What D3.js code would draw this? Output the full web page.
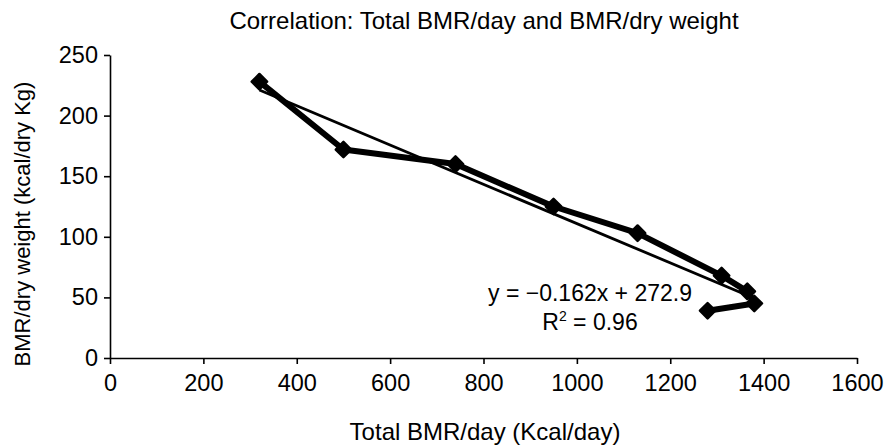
<!DOCTYPE html>
<html><head><meta charset="utf-8">
<script src="https://cdn.jsdelivr.net/npm/d3@7"></script>
<style>body{margin:0;background:#fff}svg{display:block}text{font-family:"Liberation Sans",Arial,sans-serif;fill:#000}</style>
</head><body><svg id="c" width="896" height="447"></svg>
<script>
const totalBMR = [320, 500, 740, 950, 1130, 1310, 1365, 1380, 1280];
const bmrPerDryWeight = [228, 172, 160, 125, 103, 68, 55, 45, 39];
const xTicks = [0, 200, 400, 600, 800, 1000, 1200, 1400, 1600];
const yTicks = [0, 50, 100, 150, 200, 250];
const slope = -0.162, intercept = 272.9;
const title = "Correlation: Total BMR/day and BMR/dry weight";
const xLabel = "Total BMR/day (Kcal/day)";
const yLabel = "BMR/dry weight (kcal/dry Kg)";

const svg = d3.select("#c");
const x = d3.scaleLinear().domain([0,1600]).range([110,857]);
const y = d3.scaleLinear().domain([0,250]).range([358,55]);

const xa = svg.append("g").attr("transform","translate(0,358)")
  .call(d3.axisBottom(x).tickValues(xTicks).tickFormat(d3.format("d")).tickSize(6).tickPadding(10).tickSizeOuter(0));
const ya = svg.append("g").attr("transform","translate(110,0)")
  .call(d3.axisLeft(y).tickValues(yTicks).tickFormat(d3.format("d")).tickSize(6).tickPadding(6).tickSizeOuter(0));
[xa,ya].forEach(a=>{
  a.attr("font-size",null).attr("font-family",null);
  a.selectAll("path,line").attr("stroke","#000").attr("stroke-width",1.6);
  a.selectAll("text").style("font-size","23.5px");
});

svg.append("text").attr("x",484).attr("y",29).attr("text-anchor","middle").style("font-size","24px").text(title);
svg.append("text").attr("x",485).attr("y",440).attr("text-anchor","middle").style("font-size","24px").text(xLabel);
svg.append("text").attr("transform","translate(30,224) rotate(-90)").attr("text-anchor","middle").style("font-size","22px").text(yLabel);

const data = totalBMR.map((v,i)=>[v,bmrPerDryWeight[i]]);
const line = d3.line().x(d=>x(d[0])).y(d=>y(d[1]));
svg.append("path").datum(data).attr("d",line).attr("fill","none").attr("stroke","#000").attr("stroke-width",6).attr("stroke-linejoin","round");

const xmin = d3.min(totalBMR), xmax = d3.max(totalBMR);
svg.append("line").attr("x1",x(xmin)).attr("y1",y(slope*xmin+intercept))
  .attr("x2",x(xmax)).attr("y2",y(slope*xmax+intercept)).attr("stroke","#000").attr("stroke-width",2.8);

svg.selectAll("path.m").data(data).join("path").attr("class","m")
  .attr("transform",d=>`translate(${x(d[0])},${y(d[1])})`)
  .attr("d",d3.symbol().type(d3.symbolDiamond2 || d3.symbolDiamond).size(150))
  .attr("fill","#000").attr("stroke","#000").attr("stroke-width",2.5).attr("stroke-linejoin","round");

svg.append("text").attr("x",590).attr("y",301).attr("text-anchor","middle").style("font-size","23px").text("y = \u22120.162x + 272.9");
const r = svg.append("text").attr("x",590).attr("y",330).attr("text-anchor","middle").style("font-size","23px");
r.append("tspan").text("R");
r.append("tspan").style("font-size","14px").attr("dy",-9).text("2");
r.append("tspan").attr("dy",9).text(" = 0.96");
</script></body></html>
